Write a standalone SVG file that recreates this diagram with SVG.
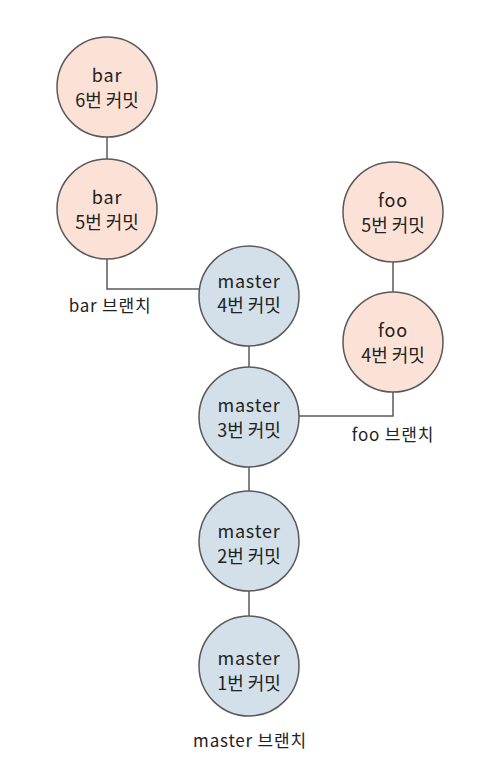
<svg xmlns="http://www.w3.org/2000/svg" width="497" height="758" viewBox="0 0 497 758">
<style>
.pink{fill:#fce1d7;stroke:#5a5a5a;stroke-width:1.5}
.blue{fill:#d3dfe9;stroke:#5a5a5a;stroke-width:1.5}
.t{font-family:"Noto Sans CJK KR","Noto Sans",sans-serif;font-size:18px;fill:#222;text-anchor:middle;dominant-baseline:central}
.lat{letter-spacing:0.8px}
.lbl{font-family:"Noto Sans CJK KR","Noto Sans",sans-serif;font-size:17px;fill:#222;text-anchor:middle;dominant-baseline:central}
.c{fill:none;stroke:#5a5a5a;stroke-width:1.5}
</style>
<rect width="497" height="758" fill="#ffffff"/>
<g id="connectors">
<path class="c" d="M107,137 V159"/>
<path class="c" d="M107,259 V289 H199"/>
<path class="c" d="M249,346 V367"/>
<path class="c" d="M249,467 V491"/>
<path class="c" d="M249,591 V616"/>
<path class="c" d="M393,262 V292"/>
<path class="c" d="M393,392 V416 H299"/>
</g>
<g id="bar6"><circle class="pink" cx="107" cy="87" r="50"/><text class="t lat" x="107" y="74">bar</text><text class="t" x="107" y="99">6번 커밋</text></g>
<g id="bar5"><circle class="pink" cx="107" cy="209" r="50"/><text class="t lat" x="107" y="196">bar</text><text class="t" x="107" y="221">5번 커밋</text></g>
<g id="master4"><circle class="blue" cx="249" cy="296" r="50"/><text class="t lat" x="249" y="280">master</text><text class="t" x="249" y="304">4번 커밋</text></g>
<g id="master3"><circle class="blue" cx="249" cy="417" r="50"/><text class="t lat" x="249" y="404">master</text><text class="t" x="249" y="429">3번 커밋</text></g>
<g id="master2"><circle class="blue" cx="249" cy="541" r="50"/><text class="t lat" x="249" y="530">master</text><text class="t" x="249" y="555">2번 커밋</text></g>
<g id="master1"><circle class="blue" cx="249" cy="666" r="50"/><text class="t lat" x="249" y="657">master</text><text class="t" x="249" y="682">1번 커밋</text></g>
<g id="foo5"><circle class="pink" cx="393" cy="212" r="50"/><text class="t lat" x="393" y="199">foo</text><text class="t" x="393" y="224">5번 커밋</text></g>
<g id="foo4"><circle class="pink" cx="393" cy="342" r="50"/><text class="t lat" x="393" y="329">foo</text><text class="t" x="393" y="354">4번 커밋</text></g>
<g id="labels">
<text class="lbl lat" x="110" y="304">bar 브랜치</text>
<text class="lbl lat" x="393" y="433">foo 브랜치</text>
<text class="lbl lat" x="250" y="739">master 브랜치</text>
</g>
</svg>
